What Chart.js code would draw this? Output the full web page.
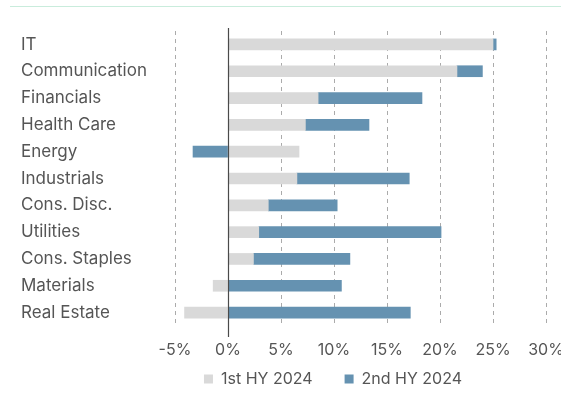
<!DOCTYPE html>
<html>
<head>
<meta charset="utf-8">
<script src="https://cdn.jsdelivr.net/npm/chart.js@4"></script>
<style>
  html, body { margin: 0; padding: 0; background: #fff; }
  #wrap { position: relative; width: 561px; height: 395px; }
  #topRule { position: absolute; left: 10px; right: 0; top: 6px; height: 0; border-top: 1px solid #c9ecdc; }
  canvas { display: block; }
</style>
</head>
<body>
<div id="wrap">
  <div id="topRule"></div>
  <canvas id="myChart" width="561" height="395"></canvas>
</div>
<script>
const sectors = [
  "IT",
  "Communication",
  "Financials",
  "Health Care",
  "Energy",
  "Industrials",
  "Cons. Disc.",
  "Utilities",
  "Cons. Staples",
  "Materials",
  "Real Estate",
];
const firstHalf = [25.0, 21.6, 8.5, 7.3, 6.7, 6.5, 3.8, 2.9, 2.4, -1.4, -4.1];
const secondHalf = [0.3, 2.4, 9.8, 6.0, -3.3, 10.6, 6.5, 17.2, 9.1, 10.7, 17.2];
const seriesNames = ["1st HY 2024", "2nd HY 2024"];
const xTicks = [-5, 0, 5, 10, 15, 20, 25, 30];

const textColor = "#555555";
const fontFamily = "Inter, 'Noto Sans', sans-serif";

// solid line at 0%, a bit longer than the dashed grid
const zeroLine = {
  id: "zeroLine",
  afterDatasetsDraw(chart) {
    const x = Math.round(chart.scales.x.getPixelForValue(0)) + 0.5;
    const { top, bottom } = chart.chartArea;
    const ctx = chart.ctx;
    ctx.save();
    ctx.strokeStyle = "#4a4a4a";
    ctx.lineWidth = 1.2;
    ctx.beginPath();
    ctx.moveTo(x, top - 3);
    ctx.lineTo(x, bottom + 11);
    ctx.stroke();
    ctx.restore();
  },
};

// the wide item padding would make the legend too tall, so it gets a
// small box and is nudged up/right after layout
const legendShift = {
  id: "legendShift",
  afterLayout(chart) {
    chart.legend.left += 42;
    chart.legend.right += 42;
    chart.legend.top -= 21;
  },
};

new Chart(document.getElementById("myChart"), {
  type: "bar",
  data: {
    labels: sectors,
    datasets: [
      {
        label: seriesNames[0],
        data: firstHalf,
        backgroundColor: "#d9d9d9",
        barThickness: 11,
      },
      {
        label: seriesNames[1],
        data: secondHalf,
        backgroundColor: "#6592b1",
        barThickness: 11,
      },
    ],
  },
  options: {
    indexAxis: "y",
    responsive: false,
    animation: false,
    layout: { padding: { top: 31, left: 21, right: 0, bottom: 0 } },
    scales: {
      x: {
        stacked: true,
        min: -5,
        max: 30,
        afterBuildTicks(scale) {
          scale.ticks = xTicks.map((v) => ({ value: v }));
        },
        afterFit(scale) {
          scale.height = 34;
          scale.paddingRight = 15;
        },
        grid: { color: "#ababab", lineWidth: 1, drawTicks: false },
        border: { display: false, dash: [4, 4] },
        ticks: {
          padding: 15,
          color: textColor,
          font: { family: fontFamily, size: 16 },
          callback: (v) => v + "%",
        },
      },
      y: {
        stacked: true,
        grid: { display: false },
        border: { display: false },
        afterFit(scale) {
          scale.width = 154;
        },
        ticks: {
          crossAlign: "far",
          color: textColor,
          font: { family: fontFamily, size: 17 },
        },
      },
    },
    plugins: {
      legend: {
        position: "bottom",
        maxHeight: 35,
        labels: {
          boxWidth: 9,
          boxHeight: 9,
          padding: 32,
          color: textColor,
          font: { family: fontFamily, size: 16 },
        },
      },
      tooltip: { enabled: false },
    },
  },
  plugins: [zeroLine, legendShift],
});
</script>
</body>
</html>
